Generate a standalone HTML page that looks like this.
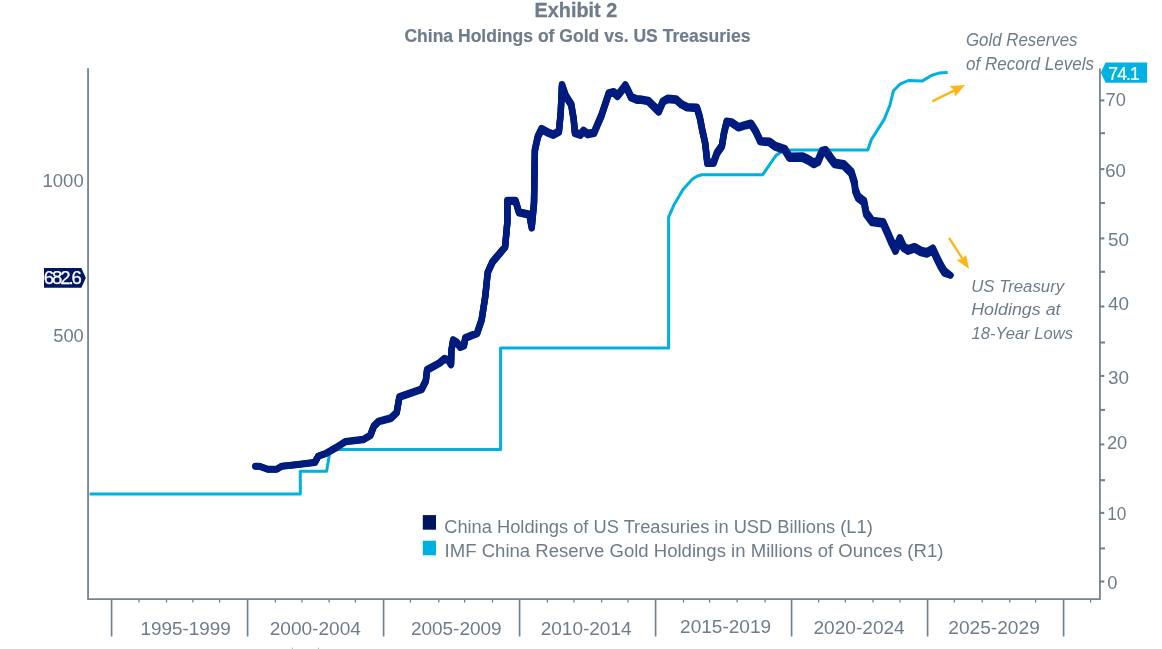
<!DOCTYPE html>
<html lang="en"><head><meta charset="utf-8"><title>Exhibit 2 - China Holdings of Gold vs. US Treasuries</title>
<style>
html,body{margin:0;padding:0;background:#fff;}
body{width:1162px;height:649px;overflow:hidden;}
svg{display:block;}
text{font-family:"Liberation Sans",sans-serif;fill:#6e7c8b;}
.b{font-weight:bold;}
.i{font-style:italic;}
</style></head><body>
<svg width="1162" height="649" viewBox="0 0 1162 649">
<rect width="1162" height="649" fill="#ffffff"/>

<text class="b" x="534.6" y="16.9" font-size="20.2" textLength="82.6" lengthAdjust="spacingAndGlyphs" stroke="#6e7c8b" stroke-width="0.3">Exhibit 2</text>
<text class="b" x="404.4" y="42" font-size="19" textLength="346" lengthAdjust="spacingAndGlyphs" stroke="#6e7c8b" stroke-width="0.2">China Holdings of Gold vs. US Treasuries</text>
<g stroke="#75828f" fill="none">
<path d="M88.05,68.3 V599.1 H1099.9 V68.5" stroke-width="1.8" stroke-linejoin="miter"/>
<line x1="111.6" y1="599" x2="111.6" y2="636.5" stroke-width="1.7"/>
<line x1="247.6" y1="599" x2="247.6" y2="636.5" stroke-width="1.7"/>
<line x1="383.6" y1="599" x2="383.6" y2="636.5" stroke-width="1.7"/>
<line x1="519.6" y1="599" x2="519.6" y2="636.5" stroke-width="1.7"/>
<line x1="655.6" y1="599" x2="655.6" y2="636.5" stroke-width="1.7"/>
<line x1="791.6" y1="599" x2="791.6" y2="636.5" stroke-width="1.7"/>
<line x1="927.6" y1="599" x2="927.6" y2="636.5" stroke-width="1.7"/>
<line x1="1063.6" y1="599" x2="1063.6" y2="636.5" stroke-width="1.7"/>
<line x1="139.0" y1="599" x2="139.0" y2="602.6" stroke-width="1.3"/>
<line x1="166.5" y1="599" x2="166.5" y2="602.6" stroke-width="1.3"/>
<line x1="192.9" y1="599" x2="192.9" y2="602.6" stroke-width="1.3"/>
<line x1="219.6" y1="599" x2="219.6" y2="602.6" stroke-width="1.3"/>
<line x1="275.4" y1="599" x2="275.4" y2="602.6" stroke-width="1.3"/>
<line x1="302.0" y1="599" x2="302.0" y2="602.6" stroke-width="1.3"/>
<line x1="329.1" y1="599" x2="329.1" y2="602.6" stroke-width="1.3"/>
<line x1="355.4" y1="599" x2="355.4" y2="602.6" stroke-width="1.3"/>
<line x1="410.4" y1="599" x2="410.4" y2="602.6" stroke-width="1.3"/>
<line x1="438.8" y1="599" x2="438.8" y2="602.6" stroke-width="1.3"/>
<line x1="464.6" y1="599" x2="464.6" y2="602.6" stroke-width="1.3"/>
<line x1="492.5" y1="599" x2="492.5" y2="602.6" stroke-width="1.3"/>
<line x1="547.4" y1="599" x2="547.4" y2="602.6" stroke-width="1.3"/>
<line x1="574.0" y1="599" x2="574.0" y2="602.6" stroke-width="1.3"/>
<line x1="601.7" y1="599" x2="601.7" y2="602.6" stroke-width="1.3"/>
<line x1="628.0" y1="599" x2="628.0" y2="602.6" stroke-width="1.3"/>
<line x1="683.5" y1="599" x2="683.5" y2="602.6" stroke-width="1.3"/>
<line x1="709.6" y1="599" x2="709.6" y2="602.6" stroke-width="1.3"/>
<line x1="737.2" y1="599" x2="737.2" y2="602.6" stroke-width="1.3"/>
<line x1="765.1" y1="599" x2="765.1" y2="602.6" stroke-width="1.3"/>
<line x1="818.7" y1="599" x2="818.7" y2="602.6" stroke-width="1.3"/>
<line x1="845.3" y1="599" x2="845.3" y2="602.6" stroke-width="1.3"/>
<line x1="873.0" y1="599" x2="873.0" y2="602.6" stroke-width="1.3"/>
<line x1="900.0" y1="599" x2="900.0" y2="602.6" stroke-width="1.3"/>
<line x1="954.3" y1="599" x2="954.3" y2="602.6" stroke-width="1.3"/>
<line x1="982.2" y1="599" x2="982.2" y2="602.6" stroke-width="1.3"/>
<line x1="1009.8" y1="599" x2="1009.8" y2="602.6" stroke-width="1.3"/>
<line x1="1035.6" y1="599" x2="1035.6" y2="602.6" stroke-width="1.3"/>
<line x1="1090.6" y1="599" x2="1090.6" y2="602.6" stroke-width="1.3"/>
<line x1="1100" y1="100.4" x2="1104.3" y2="100.4" stroke-width="2.1"/>
<line x1="1100" y1="169.1" x2="1104.3" y2="169.1" stroke-width="2.1"/>
<line x1="1100" y1="238.4" x2="1104.3" y2="238.4" stroke-width="2.1"/>
<line x1="1100" y1="306.5" x2="1104.3" y2="306.5" stroke-width="2.1"/>
<line x1="1100" y1="375.9" x2="1104.3" y2="375.9" stroke-width="2.1"/>
<line x1="1100" y1="444.4" x2="1104.3" y2="444.4" stroke-width="2.1"/>
<line x1="1100" y1="512.9" x2="1104.3" y2="512.9" stroke-width="2.1"/>
<line x1="1100" y1="581.5" x2="1104.3" y2="581.5" stroke-width="2.1"/>
<line x1="1100" y1="133.2" x2="1105" y2="133.2" stroke-width="2.1"/>
<line x1="1100" y1="203.0" x2="1105" y2="203.0" stroke-width="2.1"/>
<line x1="1100" y1="271.8" x2="1105" y2="271.8" stroke-width="2.1"/>
<line x1="1100" y1="342.5" x2="1105" y2="342.5" stroke-width="2.1"/>
<line x1="1100" y1="409.9" x2="1105" y2="409.9" stroke-width="2.1"/>
<line x1="1100" y1="480.2" x2="1105" y2="480.2" stroke-width="2.1"/>
<line x1="1100" y1="548.4" x2="1105" y2="548.4" stroke-width="2.1"/>
</g>
<text x="140.4" y="634.9" font-size="18.2" textLength="90.4" lengthAdjust="spacingAndGlyphs">1995-1999</text>
<text x="269.7" y="635.2" font-size="18.2" textLength="91.2" lengthAdjust="spacingAndGlyphs">2000-2004</text>
<text x="410.9" y="635.2" font-size="18.2" textLength="90.7" lengthAdjust="spacingAndGlyphs">2005-2009</text>
<text x="540.7" y="635.2" font-size="18.2" textLength="90.9" lengthAdjust="spacingAndGlyphs">2010-2014</text>
<text x="680.1" y="633.4" font-size="18.2" textLength="91.0" lengthAdjust="spacingAndGlyphs">2015-2019</text>
<text x="813.5" y="633.9" font-size="18.2" textLength="91.2" lengthAdjust="spacingAndGlyphs">2020-2024</text>
<text x="948.3" y="633.9" font-size="18.2" textLength="91.5" lengthAdjust="spacingAndGlyphs">2025-2029</text>
<text x="1105.6" y="106.1" font-size="17.6" textLength="20.3" lengthAdjust="spacingAndGlyphs">70</text>
<text x="1105.2" y="176.6" font-size="17.6" textLength="20.6" lengthAdjust="spacingAndGlyphs">60</text>
<text x="1107.9" y="246.1" font-size="17.6" textLength="21.0" lengthAdjust="spacingAndGlyphs">50</text>
<text x="1107.9" y="310.0" font-size="17.6" textLength="21.0" lengthAdjust="spacingAndGlyphs">40</text>
<text x="1107.9" y="384.2" font-size="17.6" textLength="21.0" lengthAdjust="spacingAndGlyphs">30</text>
<text x="1106.9" y="449.1" font-size="17.6" textLength="20.4" lengthAdjust="spacingAndGlyphs">20</text>
<text x="1107.2" y="520.2" font-size="17.6" textLength="19.1" lengthAdjust="spacingAndGlyphs">10</text>
<text x="1107.3" y="589.0" font-size="17.6" textLength="10.2" lengthAdjust="spacingAndGlyphs">0</text>
<text x="42.5" y="187.1" font-size="18" textLength="41.2" lengthAdjust="spacingAndGlyphs">1000</text>
<text x="53.2" y="342.4" font-size="18" textLength="30.6" lengthAdjust="spacingAndGlyphs">500</text>
<path d="M89.6,494 H300.3 V471.3 H326.6 L329.6,453.6 L333,450.3 L338,449.6 H500.6 V348 H668.6 L668.6,217.1 L674.0,204.8 L683.2,189.3 L692.5,179.1 L697.0,176.3 L701.7,174.8 L762.5,174.8 L775.7,155.8 L781.9,151.2 L786.0,150.2 L791.6,149.9 L867.8,149.9 L871.3,139.7 L884.2,119.4 L889.8,105.5 L893.5,90.7 L899.9,84.2 L908.3,80.5 L922.1,81.1 L931.4,75.5 L938.8,73.1 L947.7,72.6" fill="none" stroke="#00b0e1" stroke-width="3" stroke-linejoin="round"/>
<polyline points="255.5,466.0 259.4,466.0 267.7,469.0 276.7,469.0 281.6,466.0 298.2,464.2 314.9,462.0 318.3,455.8 326.0,453.0 337.0,446.6 345.4,441.1 363.4,438.9 370.3,434.7 373.8,425.6 378.6,420.8 391.1,417.2 396.7,411.7 399.4,396.2 421.6,388.5 425.8,380.2 427.1,369.1 439.6,362.2 444.5,358.0 448.6,359.4 451.0,363.6 451.4,349.7 453.2,339.3 456.3,341.4 460.4,346.2 463.9,344.8 465.3,337.2 477.1,332.4 481.6,319.2 485.4,294.8 487.7,271.7 492.4,261.3 505.1,246.2 507.4,220.7 507.4,199.9 515.5,199.9 519.0,211.5 529.4,213.7 531.7,226.4 534.0,202.0 534.9,148.9 537.9,135.4 541.6,128.0 547.2,131.1 553.3,133.6 558.9,130.5 560.7,112.0 562.0,84.1 565.7,94.8 571.2,103.4 573.7,118.2 574.9,131.7 580.4,133.6 583.5,129.9 587.8,133.0 594.0,131.7 597.7,123.1 601.4,114.5 605.1,103.4 608.8,92.3 613.7,91.1 617.4,94.8 622.3,88.6 625.4,84.5 628.5,90.5 631.0,96.0 637.1,98.5 640.0,98.5 648.3,99.9 653.9,105.4 658.7,110.3 662.9,100.5 667.7,97.8 676.1,98.5 681.6,103.3 687.2,106.1 696.9,106.8 699.7,115.8 702.4,129.7 705.2,142.2 707.3,161.6 713.5,161.6 717.0,151.9 721.9,144.9 723.9,132.5 726.7,120.7 731.6,121.4 738.5,126.2 745.4,124.1 751.0,122.7 755.5,129.7 760.4,140.1 769.4,140.7 775.0,144.8 784.7,148.0 789.5,155.7 802.7,155.5 808.3,158.2 813.8,161.7 818.0,159.6 822.1,149.9 825.6,149.2 830.5,156.2 834.6,161.7 843.6,163.1 851.3,170.7 854.7,181.8 855.2,188.3 858.2,195.6 864.0,200.0 866.2,211.7 872.1,219.8 883.1,221.2 887.4,230.7 891.8,241.0 895.5,248.3 899.9,237.3 903.5,245.4 907.9,248.3 914.5,246.1 921.1,249.8 927.0,251.2 932.8,247.6 936.5,255.6 940.9,264.4 944.5,270.3 950.3,274.9" fill="none" stroke="#001b7e" stroke-width="6.4" stroke-linejoin="round" stroke-linecap="round"/>
<polyline points="255.5,466.6 259.4,466.6 267.7,469.6 276.7,469.6 281.6,466.6 298.2,464.8 314.9,462.8 318.3,456.6 326.0,453.8 337.0,447.6 345.4,442.1 363.4,440.1 370.3,436.1 373.8,427.0 378.6,422.2 391.1,418.8 396.7,413.3 399.4,397.8 421.6,390.1 425.8,381.8 427.1,370.7 439.6,363.8 444.5,359.6 448.6,361.0 451.0,365.2 451.4,351.3 453.2,340.9 456.3,343.0 460.4,347.8 463.9,346.4 465.3,338.8 477.1,334.0 481.6,320.8 485.4,296.4 487.7,273.3 492.4,262.9 505.1,247.8 507.4,222.5 507.4,201.7 515.5,201.7 519.0,213.3 529.4,215.7 531.7,228.4 534.0,204.2 534.9,151.1 537.9,137.6 541.6,130.2 547.2,133.3 553.3,135.8 558.9,132.7 560.7,114.2 562.0,86.3 565.7,97.0 571.2,105.6 573.7,120.4 574.9,133.9 580.4,135.8 583.5,132.1 587.8,135.2 594.0,133.9 597.7,125.3 601.4,116.7 605.1,105.6 608.8,94.5 613.7,93.3 617.4,97.0 622.3,90.8 625.4,86.7 628.5,92.7 631.0,98.2 637.1,100.7 640.0,100.7 648.3,102.1 653.9,107.6 658.7,112.5 662.9,102.7 667.7,100.0 676.1,100.7 681.6,105.5 687.2,108.3 696.9,109.0 699.7,118.0 702.4,131.9 705.2,144.4 707.3,163.8 713.5,163.8 717.0,154.1 721.9,147.1 723.9,134.7 726.7,122.9 731.6,123.6 738.5,128.4 745.4,126.3 751.0,124.9 755.5,131.9 760.4,142.3 769.4,143.1 775.0,147.4 784.7,151.0 789.5,158.7 802.7,158.9 808.3,161.6 813.8,165.1 818.0,163.0 822.1,153.3 825.6,152.6 830.5,159.6 834.6,165.1 843.6,166.5 851.3,174.1 854.7,185.2 855.2,191.7 858.2,199.0 864.0,203.4 866.2,215.1 872.1,223.2 883.1,224.6 887.4,234.1 891.8,244.4 895.5,251.7 899.9,240.7 903.5,248.8 907.9,251.7 914.5,249.5 921.1,253.2 927.0,254.6 932.8,251.0 936.5,259.0 940.9,267.8 944.5,273.7 950.3,275.5" fill="none" stroke="#001b7e" stroke-width="6.4" stroke-linejoin="round" stroke-linecap="round"/>
<polyline points="255.5,466.3 259.4,466.3 267.7,469.3 276.7,469.3 281.6,466.3 298.2,464.5 314.9,462.4 318.3,456.2 326.0,453.4 337.0,447.1 345.4,441.6 363.4,439.5 370.3,435.4 373.8,426.3 378.6,421.5 391.1,418.0 396.7,412.5 399.4,397.0 421.6,389.3 425.8,381.0 427.1,369.9 439.6,363.0 444.5,358.8 448.6,360.2 451.0,364.4 451.4,350.5 453.2,340.1 456.3,342.2 460.4,347.0 463.9,345.6 465.3,338.0 477.1,333.2 481.6,320.0 485.4,295.6 487.7,272.5 492.4,262.1 505.1,247.0 507.4,221.6 507.4,200.8 515.5,200.8 519.0,212.4 529.4,214.7 531.7,227.4 534.0,203.1 534.9,150.0 537.9,136.5 541.6,129.1 547.2,132.2 553.3,134.7 558.9,131.6 560.7,113.1 562.0,85.2 565.7,95.9 571.2,104.5 573.7,119.3 574.9,132.8 580.4,134.7 583.5,131.0 587.8,134.1 594.0,132.8 597.7,124.2 601.4,115.6 605.1,104.5 608.8,93.4 613.7,92.2 617.4,95.9 622.3,89.7 625.4,85.6 628.5,91.6 631.0,97.1 637.1,99.6 640.0,99.6 648.3,101.0 653.9,106.5 658.7,111.4 662.9,101.6 667.7,98.9 676.1,99.6 681.6,104.4 687.2,107.2 696.9,107.9 699.7,116.9 702.4,130.8 705.2,143.3 707.3,162.7 713.5,162.7 717.0,153.0 721.9,146.0 723.9,133.6 726.7,121.8 731.6,122.5 738.5,127.3 745.4,125.2 751.0,123.8 755.5,130.8 760.4,141.2 769.4,141.9 775.0,146.1 784.7,149.5 789.5,157.2 802.7,157.2 808.3,159.9 813.8,163.4 818.0,161.3 822.1,151.6 825.6,150.9 830.5,157.9 834.6,163.4 843.6,164.8 851.3,172.4 854.7,183.5 855.2,190.0 858.2,197.3 864.0,201.7 866.2,213.4 872.1,221.5 883.1,222.9 887.4,232.4 891.8,242.7 895.5,250.0 899.9,239.0 903.5,247.1 907.9,250.0 914.5,247.8 921.1,251.5 927.0,252.9 932.8,249.3 936.5,257.3 940.9,266.1 944.5,272.0 950.3,275.2" fill="none" stroke="#001b7e" stroke-width="6.4" stroke-linejoin="round" stroke-linecap="round"/>
<polygon points="44,268 81.4,268 85.8,277.9 81.4,287.7 44,287.7" fill="#001563"/>
<text x="43.7" y="284.3" font-size="18.6" textLength="38.2" lengthAdjust="spacing" style="fill:#fff" stroke="#fff" stroke-width="0.25">682.6</text>
<polygon points="1100.8,72.4 1105.6,62.5 1147.1,62.5 1147.1,82.7 1105.6,82.7" fill="#00b1e2"/>
<text x="1108.3" y="79.9" font-size="17.6" textLength="31.4" lengthAdjust="spacing" style="fill:#fff" stroke="#fff" stroke-width="0.2">74.1</text>
<rect x="291.8" y="647.6" width="1" height="1.4" fill="#aab3bd"/><rect x="318" y="647.6" width="1" height="1.4" fill="#aab3bd"/>
<line x1="932.3" y1="101.4" x2="956" y2="89.6" stroke="#fdb714" stroke-width="2.3"/>
<polygon points="965.1,85.1 949.9,86.1 954.2,90.6 955.1,96.6" fill="#fdb714"/>
<line x1="949.1" y1="238" x2="964" y2="261" stroke="#fdb714" stroke-width="2.3"/>
<polygon points="969.1,269.1 956.5,260.1 962,259 966.1,255.1" fill="#fdb714"/>
<text class="i" x="966" y="45.5" font-size="17.5" textLength="111.5" lengthAdjust="spacingAndGlyphs">Gold Reserves</text>
<text class="i" x="966" y="69.7" font-size="17.5" textLength="128" lengthAdjust="spacingAndGlyphs">of Record Levels</text>
<text class="i" x="971.2" y="291.7" font-size="17.4" textLength="93" lengthAdjust="spacingAndGlyphs">US Treasury</text>
<text class="i" x="971.2" y="315.2" font-size="17.4" textLength="89.4" lengthAdjust="spacingAndGlyphs">Holdings at</text>
<text class="i" x="971.6" y="338.6" font-size="17.4" textLength="101.4" lengthAdjust="spacingAndGlyphs">18-Year Lows</text>
<rect x="422.8" y="515.1" width="13.2" height="14.6" fill="#001560"/>
<rect x="422.8" y="540.7" width="13.2" height="14.6" fill="#00b0e1"/>
<text x="444.2" y="533.1" font-size="18.3" textLength="428.6" lengthAdjust="spacingAndGlyphs">China Holdings of US Treasuries in USD Billions (L1)</text>
<text x="444.6" y="557.2" font-size="18.3" textLength="498.8" lengthAdjust="spacingAndGlyphs">IMF China Reserve Gold Holdings in Millions of Ounces (R1)</text>
</svg></body></html>
